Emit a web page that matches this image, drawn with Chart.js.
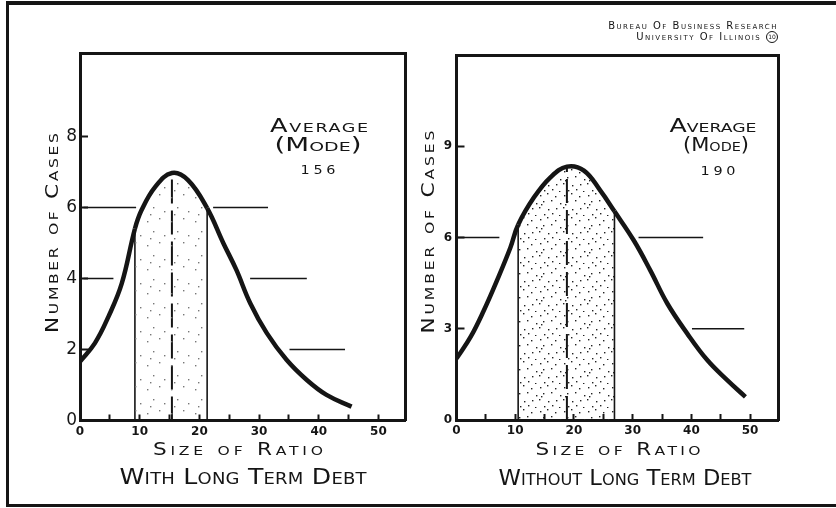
<!DOCTYPE html>
<html>
<head>
<meta charset="utf-8">
<script src="https://cdn.jsdelivr.net/npm/chart.js@4.4.1/dist/chart.umd.min.js"></script>
<style>
  html, body { margin: 0; padding: 0; background: #fff; }
  #page { position: relative; width: 836px; height: 508px; overflow: hidden; background: #fff; }
  #frame {
    position: absolute; left: 6px; top: 1px; width: 830px; height: 506px; box-sizing: border-box;
    border-top: 4px solid #151515; border-left: 3px solid #151515; border-bottom: 3px solid #151515;
  }
  canvas { position: absolute; top: 0; }
  #left { left: 0; }
  #right { left: 418px; }
  #credit {
    position: absolute; right: 58px; top: 21px; text-align: right; color: #151515;
    font: small-caps 10px "DejaVu Sans", sans-serif; line-height: 10px; letter-spacing: 1.5px;
  }
  #credit .ring {
    display: inline-block; width: 10px; height: 10px; border: 1.3px solid #151515; border-radius: 50%;
    font-size: 6px; line-height: 10px; text-align: center; letter-spacing: 0; vertical-align: middle;
  }
</style>
</head>
<body>
<div id="page">
  <div id="frame"></div>
  <canvas id="left" width="418" height="508"></canvas>
  <canvas id="right" width="418" height="508"></canvas>
  <div id="credit">
    <div>Bureau Of Business Research</div>
    <div>University Of Illinois <span class="ring">10</span></div>
  </div>
</div>
<script>
const INK = '#151515';
const FACE = '"DejaVu Sans", sans-serif';

// x axis (size of ratio), same for both panels
const xTicks = [0, 5, 10, 15, 20, 25, 30, 35, 40, 45, 50];
const xLabels = [0, 10, 20, 30, 40, 50];

// With long term debt
const withX = [0, 2.5, 4.75, 7.0, 9.2, 10.3, 12.6, 15.4, 18.1, 21.3, 24.0, 26.2, 28.5, 31.3, 34.6, 38.0, 41.3, 45.5];
const withY = [1.66, 2.18, 2.92, 3.86, 5.4, 5.92, 6.58, 6.97, 6.77, 5.98, 5.0, 4.24, 3.31, 2.46, 1.71, 1.14, 0.72, 0.39];
const withBand = [9.2, 21.3];
const withMode = 15.4;
const withGuides = [[6, 0.6, 9.4], [6, 22.3, 31.5], [4, 0.6, 5.6], [4, 28.5, 38.0], [2, 35.1, 44.4]];
const withYTicks = [0, 2, 4, 6, 8];

// Without long term debt
const withoutX = [0, 2.4, 4.65, 6.9, 9.2, 10.5, 13.2, 16.0, 18.8, 21.7, 24.5, 26.9, 30.2, 33.0, 35.9, 39.3, 42.7, 46.1, 49.2];
const withoutY = [2.02, 2.73, 3.6, 4.59, 5.68, 6.42, 7.32, 7.98, 8.33, 8.2, 7.54, 6.86, 5.9, 4.92, 3.83, 2.84, 1.97, 1.31, 0.76];
const withoutBand = [10.5, 26.9];
const withoutMode = 18.8;
const withoutGuides = [[6, 0.1, 7.3], [6, 31.0, 42.0], [3, 40.1, 49.0]];
const withoutYTicks = [0, 3, 6, 9];

// lettering
const yTitle = 'Number of Cases';
const xTitle = 'Size of Ratio';
const withCaption = 'With Long Term Debt';
const withoutCaption = 'Without Long Term Debt';
const noteLines = ['Average', '(Mode)'];
const withModeLabel = '156';
const withoutModeLabel = '190';

// stippled fill for the middle band
function stipple(dots, color) {
  const c = document.createElement('canvas');
  c.width = c.height = 24;
  const g = c.getContext('2d');
  g.fillStyle = color;
  dots.forEach(([x, y]) => g.fillRect(x, y, 1.4, 1.4));
  return g.createPattern(c, 'repeat');
}

// hand lettering: wide small caps spread out to a given width
function lettering(items) {
  return {
    id: 'lettering',
    afterDraw(chart) {
      const ctx = chart.ctx;
      items.forEach(t => {
        ctx.save();
        ctx.font = 'small-caps ' + t.size + 'px ' + FACE;
        ctx.fillStyle = INK;
        ctx.textAlign = 'center';
        ctx.textBaseline = 'middle';
        ctx.letterSpacing = '0px';
        const natural = ctx.measureText(t.text).width;
        // never stretch past the target width
        const sx = Math.min(t.stretch || 1.2, t.width / natural);
        const gap = Math.max(0, (t.width / sx - natural) / Math.max(1, t.text.length - 1));
        ctx.letterSpacing = gap + 'px';
        ctx.translate(t.x, t.y);
        if (t.rotate) ctx.rotate(t.rotate);
        ctx.scale(sx, 1);
        ctx.fillText(t.text, gap / 2, 0);
        ctx.restore();
      });
    }
  };
}

function rule(data, width) {
  return { data, borderColor: INK, borderWidth: width, pointRadius: 0, fill: false, tension: 0 };
}

function panelDatasets(xs, ys, band, mode, guides, pattern) {
  const top = x => ys[xs.indexOf(x)];
  const sets = [{
    data: xs.map((x, i) => ({ x, y: ys[i] })),
    borderColor: INK,
    borderWidth: 4.5,
    pointRadius: 0,
    tension: 0.4,
    fill: 'origin',
    backgroundColor: 'rgba(0,0,0,0)',
    segment: {
      backgroundColor: c => (xs[c.p0DataIndex] >= band[0] && xs[c.p1DataIndex] <= band[1]) ? pattern : 'rgba(0,0,0,0)'
    }
  }];
  band.forEach(b => sets.push(rule([{ x: b, y: 0 }, { x: b, y: top(b) }], 1.6)));
  sets.push(Object.assign(rule([{ x: mode, y: 0 }, { x: mode, y: top(mode) }], 2), { borderDash: [24, 7] }));
  guides.forEach(([y, a, b]) => sets.push(rule([{ x: a, y }, { x: b, y }], 1.4)));
  return sets;
}

function edge(axis, position) {
  return {
    type: 'linear', axis, position, min: 0, max: 1,
    ticks: { display: false },
    grid: { display: false, drawTicks: false },
    border: { color: INK, width: 3 }
  };
}

function drawPanel(id, p) {
  return new Chart(document.getElementById(id), {
    type: 'line',
    data: { datasets: panelDatasets(p.xs, p.ys, p.band, p.mode, p.guides, p.pattern) },
    options: {
      responsive: false,
      animation: false,
      layout: { padding: p.padding },
      plugins: { legend: { display: false }, tooltip: { enabled: false } },
      scales: {
        x: {
          type: 'linear', min: 0, max: p.xMax,
          afterBuildTicks: s => { s.ticks = xTicks.map(value => ({ value })); },
          afterFit: s => { s.height = p.xHeight; },
          ticks: {
            autoSkip: false, maxRotation: 0, padding: 10, color: INK,
            font: { family: FACE, size: 12, weight: 'bold' },
            callback: v => xLabels.includes(v) ? String(v) : ''
          },
          grid: { drawOnChartArea: false, tickLength: -6, tickWidth: 2, tickColor: INK },
          border: { color: INK, width: 3 }
        },
        y: {
          type: 'linear', min: 0, max: p.yMax,
          afterBuildTicks: s => { s.ticks = p.yTicks.map(value => ({ value })); },
          afterFit: s => { s.width = p.yWidth; },
          ticks: { padding: p.yPad, color: INK, font: p.yFont },
          grid: { drawOnChartArea: false, tickLength: -8, tickWidth: 2, tickColor: INK },
          border: { color: INK, width: 3 }
        },
        xEdge: edge('x', 'top'),
        yEdge: edge('y', 'right')
      }
    },
    plugins: [lettering(p.text)]
  });
}

drawPanel('left', {
  xs: withX, ys: withY, band: withBand, mode: withMode, guides: withGuides, yTicks: withYTicks,
  pattern: stipple([[3, 5], [15, 2], [9, 15], [20, 19], [6, 22]], '#777'),
  padding: { left: 10, top: 53, right: 13, bottom: 0 },
  xMax: 54.45, xHeight: 87.5, yMax: 10.35, yWidth: 70, yPad: 11,
  yFont: { family: FACE, size: 17 },
  text: [
    { text: yTitle, x: 53, y: 233, size: 18, width: 200, rotate: -Math.PI / 2 },
    { text: xTitle, x: 238, y: 450, size: 18, width: 170 },
    { text: withCaption, x: 243, y: 479, size: 21, width: 247 },
    { text: noteLines[0], x: 319, y: 127, size: 19, width: 98, stretch: 1.35 },
    { text: noteLines[1], x: 318, y: 146, size: 19, width: 87, stretch: 1.5 },
    { text: withModeLabel, x: 318, y: 171, size: 12, width: 35 }
  ]
});

drawPanel('right', {
  xs: withoutX, ys: withoutY, band: withoutBand, mode: withoutMode, guides: withoutGuides, yTicks: withoutYTicks,
  pattern: stipple([[2, 3], [9, 1], [17, 4], [22, 11], [5, 9], [13, 8], [1, 15], [10, 17], [18, 16],
                    [6, 22], [14, 21], [21, 23], [3, 12]], '#222'),
  padding: { left: 0, top: 55, right: 57.7, bottom: 0 },
  xMax: 54.8, xHeight: 88, yMax: 12, yWidth: 38.5, yPad: 12.5,
  yFont: { family: FACE, size: 12, weight: 'bold' },
  text: [
    { text: yTitle, x: 11, y: 232, size: 18, width: 203, rotate: -Math.PI / 2 },
    { text: xTitle, x: 200, y: 450, size: 18, width: 165 },
    { text: withoutCaption, x: 207, y: 480, size: 21, width: 253 },
    { text: noteLines[0], x: 295, y: 127, size: 19, width: 87, stretch: 1.35 },
    { text: noteLines[1], x: 298, y: 146, size: 19, width: 66, stretch: 1.35 },
    { text: withoutModeLabel, x: 300, y: 172, size: 12, width: 35 }
  ]
});
</script>
</body>
</html>
